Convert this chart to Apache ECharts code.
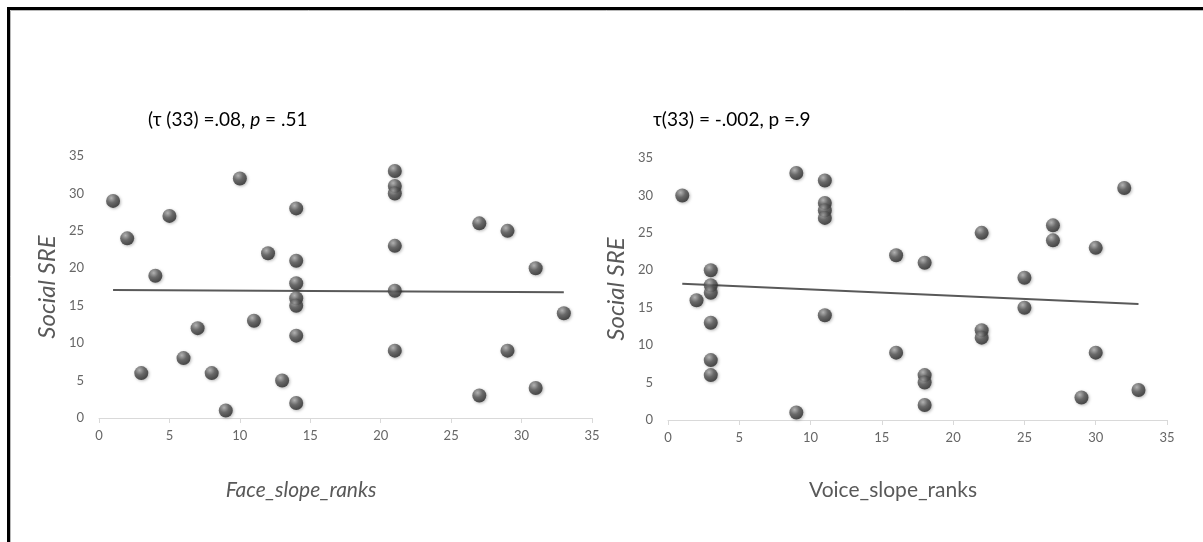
<!DOCTYPE html>
<html><head><meta charset="utf-8">
<script src="https://cdn.jsdelivr.net/npm/echarts@6/dist/echarts.min.js"></script>
<style>html,body{margin:0;padding:0;background:#fff;} #c{width:1203px;height:542px;}</style>
</head><body><div id="c"></div>
<script>
// ---- data ----
const faceRanks = [1,2,3,4,5,6,7,8,9,10,11,12,13,14,14,14,14,14,14,14,21,21,21,21,21,21,27,27,29,29,31,31,33];
const faceSRE   = [29,24,6,19,27,8,12,6,1,32,13,22,5,28,21,18,16,15,11,2,33,31,30,23,17,9,26,3,25,9,20,4,14];
const voiceRanks = [1,2,3,3,3,3,3,3,9,9,11,11,11,11,11,16,16,18,18,18,18,22,22,22,25,25,27,27,29,30,30,32,33];
const voiceSRE   = [30,16,20,18,17,13,8,6,33,1,32,29,28,27,14,22,9,21,6,5,2,25,12,11,19,15,26,24,3,23,9,31,4];
const faceTrendX = [1, 33];
const faceTrendY = [17.1, 16.8];
const voiceTrendX = [1, 33];
const voiceTrendY = [18.2, 15.5];
const axisMin = 0, axisMax = 35, axisStep = 5;
const faceTitle = '(τ (33) =.08, {i|p} = .51';
const voiceTitle = 'τ(33) = -.002, p =.9';
const yName = 'Social SRE';
const faceXName = 'Face_slope_ranks';
const voiceXName = 'Voice_slope_ranks';

const FONT = 'Lato';
const pairs = (xs, ys) => xs.map((x, i) => [x, ys[i]]);
const sphere = {
  type: 'radial', x: 0.38, y: 0.3, r: 0.75,
  colorStops: [{offset: 0, color: '#b0b0b0'}, {offset: 0.45, color: '#555'}, {offset: 1, color: '#222'}]
};
function xAxis(gi) {
  return {
    gridIndex: gi, type: 'value', min: axisMin, max: axisMax, interval: axisStep,
    axisLine: {show: true, lineStyle: {color: '#d9d9d9', width: 1}},
    axisTick: {show: true, length: 5, lineStyle: {color: '#d9d9d9'}},
    axisLabel: {color: '#666', fontFamily: FONT, fontSize: 13, margin: 11},
    splitLine: {show: false}
  };
}
function yAxis(gi) {
  return {
    gridIndex: gi, type: 'value', min: axisMin, max: axisMax, interval: axisStep,
    name: yName, nameLocation: 'middle', nameGap: 40,
    nameTextStyle: {fontFamily: FONT, fontSize: 24, color: '#595959', fontStyle: 'italic'},
    axisLine: {show: false}, axisTick: {show: false},
    axisLabel: {color: '#666', fontFamily: FONT, fontSize: 13, margin: 15},
    splitLine: {show: false}
  };
}
function scatter(i, xs, ys) {
  return {
    type: 'scatter', xAxisIndex: i, yAxisIndex: i, data: pairs(xs, ys),
    symbolSize: 14, z: 3,
    itemStyle: {color: sphere, shadowBlur: 3, shadowColor: 'rgba(0,0,0,0.35)', shadowOffsetY: 1, shadowOffsetX: 1}
  };
}
function trend(i, xs, ys) {
  return {
    type: 'line', xAxisIndex: i, yAxisIndex: i, data: pairs(xs, ys),
    symbol: 'none', z: 2, lineStyle: {color: '#595959', width: 2}
  };
}
const chart = echarts.init(document.getElementById('c'));
chart.setOption({
  backgroundColor: '#fff',
  animation: false,
  title: [
    {text: faceTitle, left: 148, top: 110, padding: 0, textStyle: {fontFamily: FONT, fontSize: 19, fontWeight: 'normal', color: '#000',
      rich: {i: {fontFamily: FONT, fontSize: 19, fontStyle: 'italic', color: '#000'}}}},
    {text: voiceTitle, left: 653, top: 110, padding: 0, textStyle: {fontFamily: FONT, fontSize: 19, fontWeight: 'normal', color: '#000'}}
  ],
  grid: [
    {left: 99, top: 156, width: 493, height: 262},
    {left: 668, top: 158, width: 499, height: 262}
  ],
  xAxis: [xAxis(0), xAxis(1)],
  yAxis: [yAxis(0), yAxis(1)],
  series: [
    trend(0, faceTrendX, faceTrendY), scatter(0, faceRanks, faceSRE),
    trend(1, voiceTrendX, voiceTrendY), scatter(1, voiceRanks, voiceSRE)
  ],
  graphic: [
    {type: 'polyline', shape: {points: [[10.5, 542], [10.5, 10.5], [1203, 10.5]]}, style: {stroke: '#b8b8b8', lineWidth: 1, fill: null}},
    {type: 'polyline', shape: {points: [[8.5, 542], [8.5, 8.5], [1203, 8.5]]}, style: {stroke: '#000', lineWidth: 3, fill: null}},
    {type: 'text', x: 301, y: 490, style: {text: faceXName, fontFamily: FONT, fontSize: 21, fontStyle: 'italic', fill: '#595959', align: 'center', verticalAlign: 'middle'}},
    {type: 'text', x: 893, y: 490, style: {text: voiceXName, fontFamily: FONT, fontSize: 21, fill: '#595959', align: 'center', verticalAlign: 'middle'}}
  ]
});
</script>
</body></html>
